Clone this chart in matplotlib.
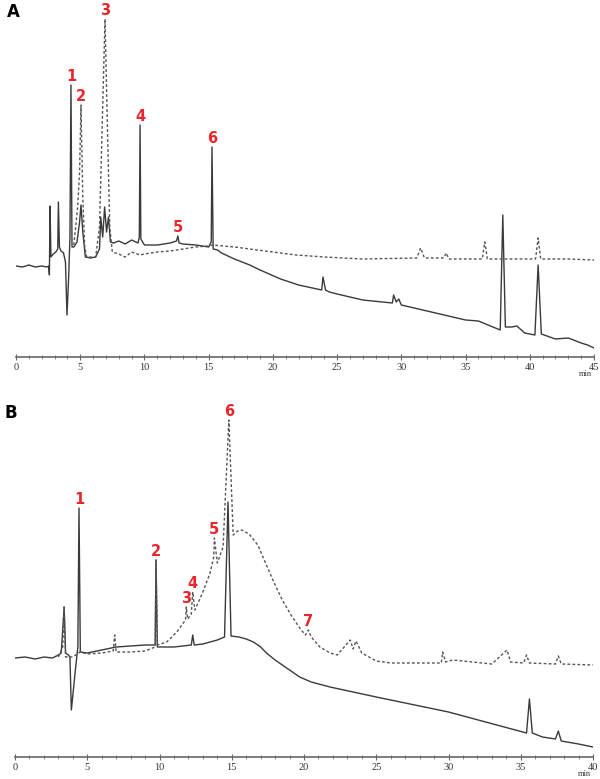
import numpy as np
import matplotlib
matplotlib.use('Agg')
from matplotlib import pyplot as plt

# ---- panel A : time (min) and signal height (a.u.) ----
a_solid_t = [0, 0.5, 1.0, 1.5, 2.0, 2.4, 2.55, 2.6, 2.65, 2.72, 2.9, 3.1, 3.25, 3.3, 3.38, 3.5,
             3.7, 3.85, 3.97, 4.1, 4.2, 4.28, 4.36, 4.5, 4.75, 4.95, 5.06, 5.2, 5.4, 5.8, 6.2,
             6.5, 6.6, 6.75, 6.9, 7.05, 7.2, 7.35, 7.6, 8.0, 8.5, 9.0, 9.5, 9.6, 9.66, 9.72,
             10.0, 11.0, 12.0, 12.5, 12.6, 12.7, 13.0, 14.0, 15.0, 15.2, 15.26, 15.35, 15.7,
             16.0, 17.0, 18.2, 19.0, 20.6, 22.0, 23.8, 23.9, 24.1, 24.4, 25.0, 27.0, 29.3,
             29.4, 29.6, 29.8, 30.0, 33.0, 35.0, 36.0, 37.7, 37.9, 38.1, 38.6, 39.0, 39.6,
             40.4, 40.65, 40.9, 42.0, 43.0, 44.0, 44.5, 45.0]
a_solid_h = [91, 90, 92, 90, 91, 90, 91, 82, 151, 100, 103, 105, 108, 155, 110, 106,
             104, 95, 42, 80, 120, 272, 110, 110, 115, 135, 152, 125, 100, 99, 100,
             108, 140, 120, 150, 125, 140, 115, 114, 116, 113, 117, 114, 120, 232, 118,
             112, 112, 114, 116, 121, 114, 113, 112, 110, 115, 210, 108, 107,
             104, 98, 92, 87, 78, 72, 67, 80, 67, 65, 63, 57, 54,
             62, 55, 58, 52, 43, 37, 36, 27, 142, 30, 30, 31, 24,
             22, 92, 23, 18, 19, 14, 12, 9]

a_dash_t = [4.5, 4.8, 4.95, 5.06, 5.2, 5.35, 5.5, 6.2, 6.5, 6.75, 6.93, 7.1, 7.3, 7.5, 8.0,
            8.5, 9.0, 9.66, 10.0, 11.0, 12.0, 13.0, 14.0, 15.0, 15.3, 17.0, 20.0, 21.8,
            24.0, 27.0, 31.2, 31.5, 31.8, 33.3, 33.5, 33.7, 36.3, 36.5, 36.7, 38.0, 40.45,
            40.65, 40.85, 43.0, 45.0]
a_dash_h = [112, 150, 185, 252, 160, 110, 100, 100, 130, 250, 338, 240, 130, 105, 103,
            100, 105, 102, 103, 105, 106, 108, 110, 111, 112, 110, 105, 102,
            100, 98, 99, 109, 99, 99, 104, 98, 98, 115, 98, 98, 98,
            119, 98, 98, 97]

a_labels = ['1', '2', '3', '4', '5', '6']
a_label_t = [4.28, 5.06, 6.93, 9.66, 12.6, 15.26]
a_label_src = ['solid', 'dash', 'dash', 'solid', 'solid', 'solid']

# ---- panel B ----
b_solid_t = [0, 0.7, 1.4, 2.0, 2.6, 3.0, 3.2, 3.4, 3.5, 3.7, 3.8, 3.9, 4.2, 4.35, 4.43, 4.52,
             5.0, 6.0, 7.0, 8.0, 9.0, 9.7, 9.76, 9.85, 11.0, 12.2, 12.3, 12.4, 13.0, 14.0,
             14.5, 14.74, 14.95, 15.5, 16.0, 16.5, 17.0, 17.4, 18.0, 18.5, 19.0, 19.7, 20.5,
             21.8, 25.0, 30.0, 35.4, 35.6, 35.8, 36.5, 37.4, 37.6, 37.8, 39.0, 40.0]
b_solid_h = [99, 100, 98, 100, 99, 102, 104, 150, 104, 102, 100, 47, 90, 110, 249, 105,
             104, 107, 110, 111, 112, 112, 197, 110, 110, 112, 122, 112, 113, 117,
             120, 255, 121, 120, 118, 115, 110, 104, 97, 92, 87, 80, 75,
             70, 60, 45, 24, 58, 24, 20, 18, 26, 16, 13, 10]

b_dash_t = [3.0, 3.3, 3.4, 3.5, 4.0, 4.5, 5.0, 6.0, 6.8, 6.9, 7.0, 8.0, 9.0, 9.7, 9.76, 9.85,
            10.5, 11.2, 11.8, 11.85, 11.95, 12.2, 12.3, 12.45, 13.0, 13.5, 13.75, 13.8,
            14.0, 14.4, 14.8, 15.1, 15.4, 15.7, 16.2, 16.8, 17.4, 18.0, 18.5, 19.1, 19.7,
            20.1, 20.3, 20.5, 21.1, 21.8, 22.3, 23.2, 23.4, 23.6, 24.0, 25.0, 26.0, 29.5,
            29.6, 29.8, 30.3, 33.0, 34.05, 34.3, 35.2, 35.4, 35.6, 37.4, 37.6, 37.8, 40.0]
b_dash_h = [100, 110, 150, 100, 100, 105, 103, 104, 106, 122, 105, 105, 106, 110, 197, 112,
            115, 125, 137, 150, 138, 143, 165, 147, 165, 184, 200, 219,
            194, 210, 337, 222, 226, 227, 223, 212, 192, 172, 157, 142, 129,
            122, 127, 120, 110, 104, 102, 117, 108, 116, 104, 96, 94, 94,
            105, 95, 97, 93, 107, 95, 94, 102, 94, 93, 101, 93, 92]

b_labels = ['1', '2', '3', '4', '5', '6', '7']
b_label_t = [4.43, 9.76, 11.85, 12.3, 13.8, 14.8, 20.3]
b_label_src = ['solid', 'solid', 'dash', 'dash', 'dash', 'dash', 'dash']

W, H = 600, 779
fig = plt.figure(figsize=(6, 7.79), dpi=100)
red = '#e8262b'


def panel(rect, xmax, ymax, st, sh, dt, dh, labels, lt, lsrc):
    ax = fig.add_axes(rect)
    ax.plot(st, sh, color='#3a3a3a', lw=1.0)
    ax.plot(dt, dh, color='#555555', lw=1.0, ls=(0, (2, 1.6)))
    traces = {'solid': (st, sh), 'dash': (dt, dh)}
    for lab, t, src in zip(labels, lt, lsrc):
        tt, hh = traces[src]
        top = np.interp(t, tt, hh)
        ax.annotate(lab, (t, top), xytext=(0, 1), textcoords='offset points',
                    ha='center', va='bottom', color=red, fontsize=10.5,
                    fontweight='bold')
    ax.set_xlim(0, xmax)
    ax.set_ylim(0, ymax)
    for s in ['top', 'left', 'right']:
        ax.spines[s].set_visible(False)
    ax.spines['bottom'].set_color('#666666')
    ax.spines['bottom'].set_linewidth(1.2)
    ax.set_yticks([])
    ax.set_xticks(np.arange(0, xmax + 1, 5))
    ax.set_xticks(np.arange(0, xmax + 1, 1), minor=True)
    ax.tick_params(axis='x', which='major', direction='inout', length=4, width=0.8,
                   color='#666666', labelsize=7.5, pad=2)
    ax.tick_params(axis='x', which='minor', direction='inout', length=2.5, width=0.6,
                   color='#777777')
    for lb in ax.get_xticklabels():
        lb.set_family('Liberation Serif')
        lb.set_color('#333333')
    ax.text(0.985, -17 / ymax, 'min', transform=ax.transAxes, ha='center', va='center',
            fontsize=6, family='Liberation Serif', color='#333333')
    ax.patch.set_alpha(0)
    return ax


# panel A: axis line at y=357 px, x from 16 to 594 px
panel([16 / W, 1 - 357 / H, 578 / W, 357 / H], 45, 357,
      a_solid_t, a_solid_h, a_dash_t, a_dash_h, a_labels, a_label_t, a_label_src)
# panel B: axis line at y=757 px, x from 15 to 593 px
panel([15 / W, 1 - 757 / H, 578 / W, 380 / H], 40, 380,
      b_solid_t, b_solid_h, b_dash_t, b_dash_h, b_labels, b_label_t, b_label_src)

fig.text(7 / W, 1 - 12 / H, 'A', fontsize=12, fontweight='bold', va='center', ha='left')
fig.text(5 / W, 1 - 413 / H, 'B', fontsize=12, fontweight='bold', va='center', ha='left')

fig.savefig('out.png', dpi=100)
